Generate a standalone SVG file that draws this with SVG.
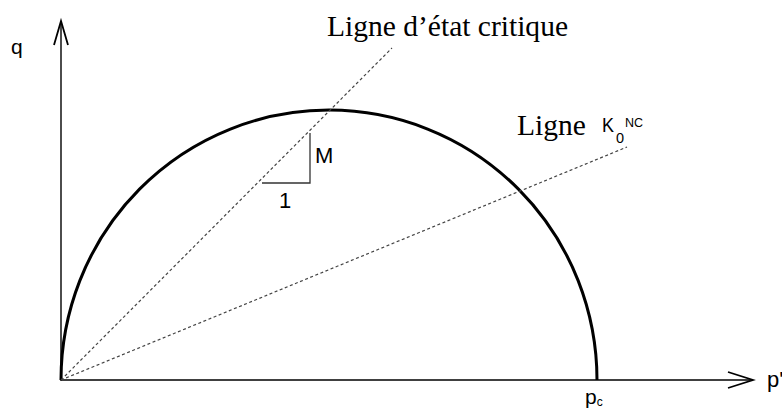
<svg xmlns="http://www.w3.org/2000/svg" width="782" height="408" viewBox="0 0 782 408">
<style>
.ax{stroke:#000;stroke-width:1.4;fill:none}
.arr{stroke:#000;stroke-width:1.8;fill:none;stroke-linejoin:miter}
.dash{stroke:#444;stroke-width:1.2;stroke-dasharray:3,2.5;fill:none}
.sans{font-family:"Liberation Sans",Arial,sans-serif;fill:#000}
.serif{font-family:"Liberation Serif","Times New Roman",serif;fill:#000}
</style>
<rect width="782" height="408" fill="#fff"/>
<g id="axes">
<line class="ax" x1="61" y1="381" x2="61" y2="22"/>
<polyline class="arr" points="54,45 61,21 68,45"/>
<line class="ax" x1="61" y1="380" x2="753" y2="380"/>
<polyline class="arr" points="728,372 753,380 728,388"/>
</g>
<g id="curve">
<path d="M61,380 A268,270 0 0 1 597,380" fill="none" stroke="#000" stroke-width="3"/>
</g>
<g id="connectors">
<line class="dash" x1="61" y1="380" x2="392" y2="48"/>
<line class="dash" x1="61" y1="380" x2="627" y2="147"/>
<polyline points="310,133 310,183 262,183" fill="none" stroke="#333" stroke-width="1.3"/>
</g>
<g id="labels">
<text class="sans" x="11" y="54" font-size="21">q</text>
<text class="serif" x="327" y="36" font-size="29.5" textLength="241" lengthAdjust="spacingAndGlyphs">Ligne d’état critique</text>
<text class="serif" x="517" y="135" font-size="29.5">Ligne</text>
<text class="sans" x="602" y="132" font-size="20" textLength="12" lengthAdjust="spacingAndGlyphs">K</text>
<text class="sans" x="616" y="143" font-size="14.5">0</text>
<text class="sans" x="625" y="127" font-size="12.5">NC</text>
<text class="sans" x="315" y="163" font-size="22">M</text>
<text class="sans" x="279" y="208" font-size="22">1</text>
<text class="sans" x="585" y="404" font-size="21">p<tspan font-size="12" dy="2">c</tspan></text>
<text class="sans" x="767" y="387" font-size="22">p'</text>
</g>
</svg>
